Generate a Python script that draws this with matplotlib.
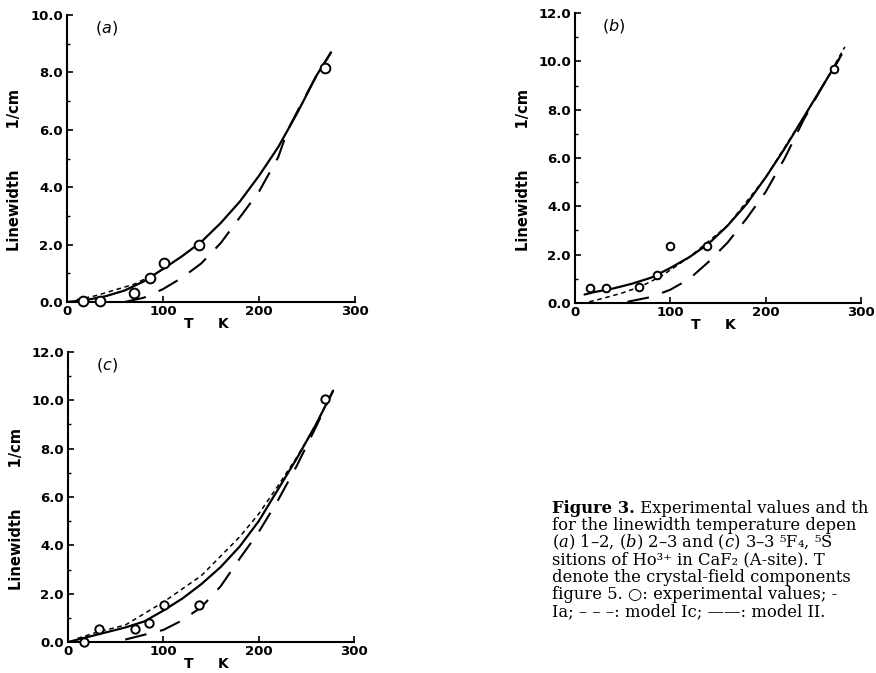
import matplotlib
matplotlib.use("Agg")
import matplotlib.pyplot as plt
from matplotlib.ticker import MultipleLocator, FixedLocator, FormatStrFormatter

# ---------------- data ----------------
# panel (a)
a_T_exp = [17, 34, 70, 86, 101, 137, 269]
a_W_exp = [0.02, 0.05, 0.30, 0.85, 1.35, 2.00, 8.15]
a_T_II = [0, 20, 40, 60, 80, 100, 120, 140, 160, 180, 200, 220, 240, 260, 275]
a_W_II = [0.0, 0.07, 0.2, 0.4, 0.72, 1.15, 1.6, 2.1, 2.75, 3.5, 4.4, 5.4, 6.6, 7.9, 8.7]
a_T_Ia = [10, 30, 50, 70, 90]
a_W_Ia = [0.08, 0.22, 0.42, 0.62, 0.95]
a_T_Ic = [60, 80, 100, 120, 140, 160, 180, 200, 220, 230, 240, 260, 275]
a_W_Ic = [0.0, 0.15, 0.45, 0.85, 1.35, 2.05, 2.95, 3.85, 5.05, 6.0, 6.65, 7.9, 8.7]

# panel (b)
b_T_exp = [16, 33, 67, 86, 100, 138, 272]
b_W_exp = [0.6, 0.6, 0.65, 1.15, 2.35, 2.35, 9.7]
b_T_II = [10, 20, 40, 60, 80, 100, 120, 140, 160, 180, 200, 220, 240, 260, 277]
b_W_II = [0.35, 0.45, 0.6, 0.8, 1.05, 1.45, 1.9, 2.45, 3.2, 4.1, 5.2, 6.4, 7.7, 9.0, 10.1]
b_T_Ia = [15, 30, 50, 70, 90, 120, 160, 200, 240, 260, 283]
b_W_Ia = [0.05, 0.2, 0.42, 0.7, 1.1, 1.9, 3.2, 5.2, 7.7, 9.0, 10.6]
b_T_Ic = [55, 80, 100, 120, 140, 160, 180, 200, 220, 240, 260, 280]
b_W_Ic = [0.05, 0.25, 0.55, 1.0, 1.7, 2.5, 3.5, 4.6, 6.0, 7.6, 9.0, 10.3]

# panel (c)
c_T_exp = [17, 33, 70, 85, 101, 137, 270]
c_W_exp = [0.0, 0.55, 0.55, 0.8, 1.55, 1.52, 10.05]
c_T_II = [0, 20, 40, 60, 80, 100, 120, 140, 160, 180, 200, 220, 240, 260, 278]
c_W_II = [0.0, 0.2, 0.4, 0.6, 0.85, 1.3, 1.8, 2.4, 3.1, 3.95, 5.0, 6.3, 7.6, 9.0, 10.4]
c_T_Ia = [10, 30, 60, 100, 140, 180, 200, 220, 240, 260, 275]
c_W_Ia = [0.15, 0.4, 0.7, 1.65, 2.75, 4.35, 5.3, 6.45, 7.65, 9.0, 10.2]
c_T_Ic = [60, 80, 100, 120, 140, 160, 180, 200, 220, 240, 260, 278]
c_W_Ic = [0.1, 0.3, 0.5, 0.9, 1.45, 2.3, 3.45, 4.55, 5.85, 7.3, 8.9, 10.4]

x_ticks = [0, 100, 200, 300]
x_ticklabels = ["0", "100", "200", "300"]
panel_labels = ["a", "b", "c"]
ymax = [10.0, 12.0, 12.0]

caption_bold = "Figure 3."
caption_lines = [
    " Experimental values and th",
    "for the linewidth temperature depen",
    r"($\it{a}$) 1–2, ($\it{b}$) 2–3 and ($\it{c}$) 3–3 ⁵F₄, ⁵S",
    "sitions of Ho³⁺ in CaF₂ (A-site). T",
    "denote the crystal-field components",
    "figure 5. ○: experimental values; -",
    "Ia; – – –: model Ic; ——: model II.",
]

# ---------------- figure ----------------
fig = plt.figure(figsize=(8.76, 6.73), dpi=100)

rects = [
    [67 / 876, 1 - 302 / 673, 290 / 876, 287 / 673],
    [575 / 876, 1 - 303 / 673, 288 / 876, 290 / 673],
    [68 / 876, 1 - 642 / 673, 288 / 876, 290 / 673],
]
data = [
    (a_T_exp, a_W_exp, a_T_II, a_W_II, a_T_Ia, a_W_Ia, a_T_Ic, a_W_Ic),
    (b_T_exp, b_W_exp, b_T_II, b_W_II, b_T_Ia, b_W_Ia, b_T_Ic, b_W_Ic),
    (c_T_exp, c_W_exp, c_T_II, c_W_II, c_T_Ia, c_W_Ia, c_T_Ic, c_W_Ic),
]
msizes = [7, 5.5, 6]

for i, (rect, d) in enumerate(zip(rects, data)):
    Te, We, T2, W2, Ta, Wa, Tc, Wc = d
    ax = fig.add_axes(rect)
    ax.plot(T2, W2, color="black", lw=1.6, solid_capstyle="round", zorder=3)
    ax.plot(Ta, Wa, color="black", lw=1.1, linestyle=(0, (3, 2.4)), zorder=3)
    ax.plot(Tc, Wc, color="black", lw=1.5, linestyle=(0, (10.5, 6.7)), zorder=3)
    ax.plot(Te, We, linestyle="none", marker="o", ms=msizes[i], mfc="white",
            mec="black", mew=1.4, zorder=4, clip_on=False)

    ax.set_xlim(0, 302)
    ax.set_ylim(0, ymax[i])
    for s in ("top", "right"):
        ax.spines[s].set_visible(False)
    for s in ("left", "bottom"):
        ax.spines[s].set_linewidth(1.5)
    ax.spines["bottom"].set_bounds(0, 300)

    ax.xaxis.set_major_locator(FixedLocator(x_ticks))
    ax.set_xticklabels(x_ticklabels)
    ax.yaxis.set_major_locator(MultipleLocator(2.0))
    ax.yaxis.set_minor_locator(MultipleLocator(1.0))
    ax.yaxis.set_major_formatter(FormatStrFormatter("%.1f"))
    ax.tick_params(axis="both", which="major", direction="in", length=4, width=1.2,
                   labelsize=9.5, pad=2)
    ax.tick_params(axis="y", which="minor", direction="in", length=2.5, width=1.0)
    ax.tick_params(axis="y", which="major", pad=3)
    for lab in ax.get_xticklabels() + ax.get_yticklabels():
        lab.set_fontweight("bold")
        lab.set_family("DejaVu Sans")

    ax.text(-0.18, 0.46, "Linewidth        1/cm", transform=ax.transAxes, rotation=90,
            ha="center", va="center", fontsize=10.5, fontweight="bold",
            family="DejaVu Sans")
    ax.text(0.48, -0.075, "T     K", transform=ax.transAxes, ha="center", va="center",
            fontsize=10, fontweight="bold", family="DejaVu Sans")
    ax.text(0.135, 0.955, r"($\it{" + panel_labels[i] + r"}$)", transform=ax.transAxes,
            ha="center", va="center", fontsize=11.5, family="DejaVu Sans")

# ---------------- caption ----------------
cap_x = 552 / 876
baselines = [513.3, 530.4, 547.5, 564.6, 581.7, 598.8, 616.0]
serif = ["DejaVu Serif"]
fig.canvas.draw()
renderer = fig.canvas.get_renderer()
for k, (line, yb) in enumerate(zip(caption_lines, baselines)):
    y = 1 - yb / 673
    x = cap_x
    if k == 0:
        t0 = fig.text(x, y, caption_bold, ha="left", va="baseline", fontsize=11.8,
                      fontweight="bold", family=serif)
        bb = t0.get_window_extent(renderer)
        x = bb.x1 / fig.bbox.width
    fig.text(x, y, line, ha="left", va="baseline", fontsize=11.8, family=serif,
             math_fontfamily="dejavuserif")

fig.savefig("out.png", dpi=100)
